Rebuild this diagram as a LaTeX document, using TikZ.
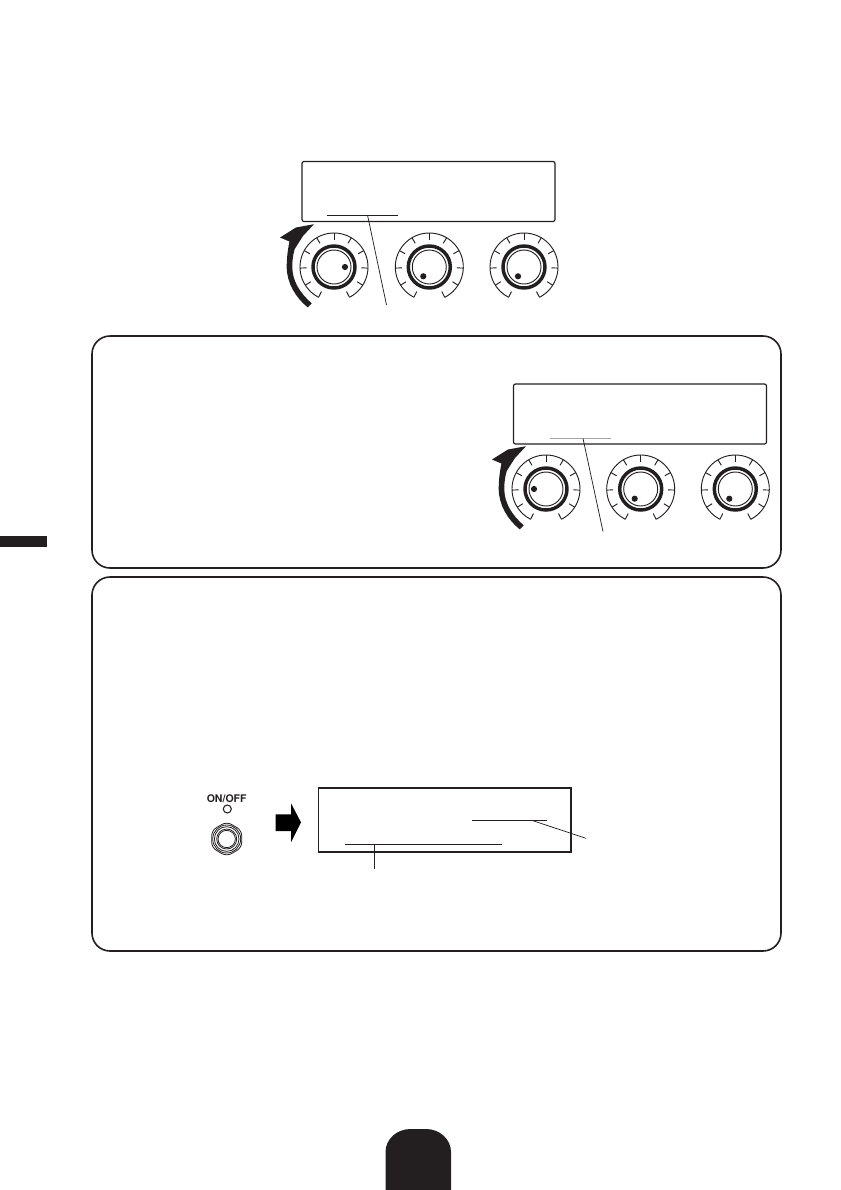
\documentclass[tikz,border=0pt]{standalone}
\usepackage{fontspec}
\setsansfont{TeX Gyre Heros}
\usetikzlibrary{shapes.geometric}
\definecolor{inkblack}{HTML}{231F20}
\definecolor{linegray}{HTML}{A3A3A3}
\tikzset{
    panelbox/.style={draw=inkblack, line width=1.2pt, rounded corners=13.5pt,
        minimum width=516.75pt, inner sep=0pt},
    dispbox/.style={draw=inkblack, line width=0.9pt, rounded corners=1.5pt,
        minimum width=189.75pt, minimum height=45pt, inner sep=0pt},
    leader/.style={draw=inkblack, line width=0.55pt},
    underln/.style={draw=inkblack, line width=0.65pt},
    tabfill/.style={fill=inkblack, draw=none},
    jackring/.style={draw=inkblack, circle, line width=0.6pt, inner sep=0pt},
}
\newcommand{\dialknob}[4]{
    \begin{scope}[shift={(#2,#3)}]
        \coordinate (#1) at (0,0);
        \draw[inkblack, line width=0.7pt] (-63:34) arc (-63:243:34);
        \foreach \ang in {-63,-32.4,-1.8,28.8,59.4,90,120.6,151.2,181.8,212.4,243}
            \draw[inkblack, line width=0.7pt] (\ang:34) -- (\ang:27.5);
        \draw[inkblack, line width=2.6pt] (0,0) circle (21);
        \draw[inkblack, line width=0.7pt] (0,0) circle (17);
        \fill[inkblack] (#4) circle (3.1);
    \end{scope}
}
\newcommand{\turnarrow}[2]{
    \begin{scope}[shift={(#1,#2)}]
        \fill[inkblack] (-22.3,-36.3) .. controls (-34,-26) and (-41.7,-14) .. (-41.7,0)
            .. controls (-41.7,7) and (-41,12) .. (-39.3,18)
            -- (-31,31) -- (-20,42.8) -- (-38,39.5) -- (-54,29.5) -- (-44.6,25.5)
            .. controls (-46,18) and (-47.3,10) .. (-47.3,0)
            .. controls (-47.3,-16) and (-38,-31) .. (-26.3,-40.3) -- cycle;
    \end{scope}
}
\begin{document}
\begin{tikzpicture}[x=0.75pt, y=0.75pt]
    \useasboundingbox (0,0) rectangle (840,-1190);

    \node[tabfill, minimum width=35.25pt, minimum height=8.25pt, inner sep=0pt]
        (sidetab) at (23.5,-541.5) {};
    \fill[inkblack] (385.5,-1190) -- (385.5,-1152)
        arc (180:90:25 and 23) -- (426,-1129) arc (90:0:25 and 23) -- (451,-1190) -- cycle;

    \node[panelbox, minimum height=174pt] (panelb) at (436.5,-452) {};
    \node[panelbox, minimum height=280.5pt] (panelc) at (436.5,-764) {};

    % top display
    \node[dispbox] (dispa) at (428.5,-191.5) {};
    \coordinate (ula) at (326.5,-215);
    \coordinate (ulb) at (397.5,-215);
    \coordinate (ulmid) at (367.5,-215);
    \coordinate (lead) at (386.5,-305);
    \draw[underln] (ula) -- (ulb);
    \draw[leader] (ulmid) -- (lead);
    \dialknob{knoba}{334}{-267}{11,0}
    \dialknob{knobb}{429.3}{-267}{-6,-9.3}
    \dialknob{knobc}{524}{-267}{-6,-9.3}
    \turnarrow{334}{-267}

    % second panel
    \node[dispbox] (dispb) at (640,-414) {};
    \coordinate (ulc) at (550,-438.5);
    \coordinate (uld) at (611,-438.5);
    \coordinate (ulmidb) at (583,-438.5);
    \coordinate (leadb) at (603,-531.5);
    \draw[draw=linegray, line width=0.9pt] (ulc) -- (uld);
    \draw[leader] (ulmidb) -- (leadb);
    \dialknob{knobd}{546}{-489}{-12,0}
    \dialknob{knobe}{640.7}{-489}{-6,-9.7}
    \dialknob{knobf}{735.3}{-489}{-6,-9.7}
    \turnarrow{546}{-489}

    % third panel
    \node[draw=inkblack, line width=1.2pt, minimum width=189.5pt, minimum height=48pt,
        inner sep=0pt] (dispc) at (444.7,-819.7) {};
    \coordinate (ule) at (472,-820.3);
    \coordinate (ulf) at (546.7,-820.3);
    \coordinate (ulmidc) at (531.7,-820.3);
    \coordinate (leadc) at (586,-838.3);
    \coordinate (ulg) at (345,-844.3);
    \coordinate (ulh) at (501.7,-844.3);
    \coordinate (ulmidd) at (374.3,-844.3);
    \coordinate (leadd) at (374.3,-869);
    \draw[underln] (ule) -- (ulf);
    \draw[underln] (ulg) -- (ulh);
    \draw[leader] (ulmidc) -- (leadc);
    \draw[leader] (ulmidd) -- (leadd);

    \fill[black] (275.7,-814.3) -- (291,-814.3) -- (291,-803.3) -- (301,-822.3)
        -- (291,-842.3) -- (291,-831) -- (275.7,-831) -- cycle;

    \node[text=inkblack, inner sep=0pt, font=\sffamily\bfseries\fontsize{7.9pt}{9pt}\selectfont]
        (onoff) at (226.7,-798.5) {ON/OFF};
    \node[jackring, line width=0.8pt, minimum size=6pt] (led) at (227.3,-809) {};
    \node[draw=inkblack, regular polygon, regular polygon sides=6, shape border rotate=30, line width=0.6pt,
        rounded corners=4pt, minimum size=26pt, inner sep=0pt] (jack) at (226.7,-839) {};
    \node[jackring, minimum size=21pt] (jacka) at (jack) {};
    \node[jackring, minimum size=18.5pt] (jackb) at (jack) {};
    \node[jackring, minimum size=15pt] (jackc) at (jack) {};
    \node[jackring, minimum size=13pt] (jackd) at (jack) {};
\end{tikzpicture}
\end{document}
